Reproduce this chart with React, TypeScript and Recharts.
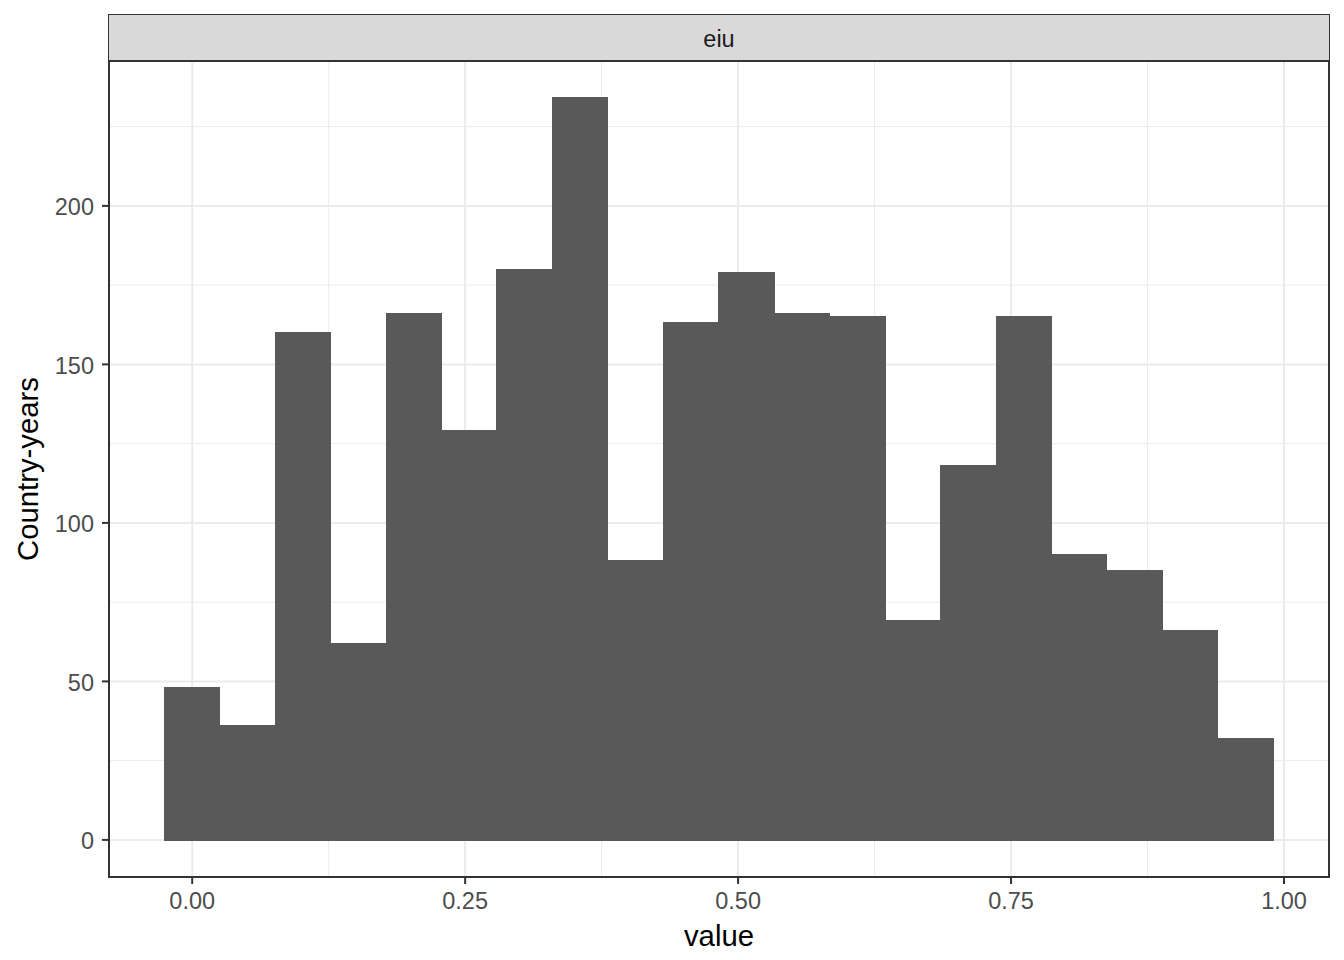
import React from "react";
import {
  Bar,
  CartesianGrid,
  ComposedChart,
  Label,
  XAxis,
  YAxis,
} from "recharts";

// histogram bins of the eiu index (bin centres) and their counts
const binCentres = [
  0.0, 0.0508, 0.1016, 0.1524, 0.2032, 0.2539, 0.3047, 0.3555, 0.4063, 0.4571,
  0.5079, 0.5587, 0.6095, 0.6603, 0.7111, 0.7618, 0.8126, 0.8634, 0.9142, 0.965,
];
const counts = [
  48, 36, 160, 62, 166, 129, 180, 234, 88, 163, 179, 166, 165, 69, 118, 165, 90,
  85, 66, 32,
];
const xTicks = [0, 0.25, 0.5, 0.75, 1];
const xMinor = [0.125, 0.375, 0.625, 0.875];
const yTicks = [0, 50, 100, 150, 200];
const yMinor = [25, 75, 125, 175, 225];
const facet = "eiu";

const data = binCentres.map((x, i) => ({ x, count: counts[i] }));

const FONT = "'Liberation Sans', Arial, sans-serif";
const tickStyle = { fill: "#4D4D4D", fontSize: 23.5, fontFamily: FONT };

export default function App() {
  return (
    <div
      style={{
        position: "absolute",
        left: 0,
        top: 0,
        width: 1344,
        height: 960,
        background: "#fff",
        fontFamily: FONT,
      }}
    >
      <ComposedChart
        width={1344}
        height={960}
        data={data}
        margin={{ top: 61, right: 15, bottom: 0, left: 0 }}
        barCategoryGap={0}
        barGap={0}
      >
        <CartesianGrid
          stroke="#EBEBEB"
          strokeWidth={1}
          horizontalValues={yMinor}
          verticalValues={xMinor}
        />
        <CartesianGrid
          stroke="#EBEBEB"
          strokeWidth={2}
          horizontalValues={yTicks}
          verticalValues={xTicks}
        />
        <XAxis
          dataKey="x"
          type="number"
          domain={[-0.0762, 1.0412]}
          allowDataOverflow
          ticks={xTicks}
          tickFormatter={(v: number) => v.toFixed(2)}
          height={83}
          axisLine={false}
          tickSize={7}
          tickMargin={8}
          tickLine={{ stroke: "#333333", strokeWidth: 2 }}
          tick={tickStyle}
        >
          <Label
            value="value"
            position="insideBottom"
            offset={14}
            style={{ fill: "#000", fontSize: 29.3, fontFamily: FONT }}
          />
        </XAxis>
        <YAxis
          type="number"
          domain={[-11.7, 245.7]}
          allowDataOverflow
          ticks={yTicks}
          width={109}
          axisLine={false}
          tickSize={7}
          tickMargin={8}
          tickLine={{ stroke: "#333333", strokeWidth: 2 }}
          tick={{ ...tickStyle, dy: 1 }}
        >
          <Label
            value="Country-years"
            angle={-90}
            position="insideLeft"
            offset={28}
            style={{
              fill: "#000",
              fontSize: 29.3,
              fontFamily: FONT,
              textAnchor: "middle",
            }}
          />
        </YAxis>
        <Bar
          dataKey="count"
          fill="#595959"
          stroke="#595959"
          strokeWidth={1.5}
          shapeRendering="crispEdges"
          isAnimationActive={false}
        />
      </ComposedChart>
      {/* panel border */}
      <div
        style={{
          position: "absolute",
          left: 108,
          top: 60,
          width: 1222,
          height: 818,
          border: "2px solid #333333",
          boxSizing: "border-box",
          pointerEvents: "none",
        }}
      />
      {/* facet strip */}
      <div
        style={{
          position: "absolute",
          left: 108,
          top: 14,
          width: 1222,
          height: 48,
          background: "#D9D9D9",
          border: "1px solid #333333",
          borderBottom: "2px solid #333333",
          boxSizing: "border-box",
          display: "flex",
          alignItems: "center",
          justifyContent: "center",
          paddingTop: 3,
          fontSize: 23.5,
          color: "#1A1A1A",
        }}
      >
        {facet}
      </div>
    </div>
  );
}
